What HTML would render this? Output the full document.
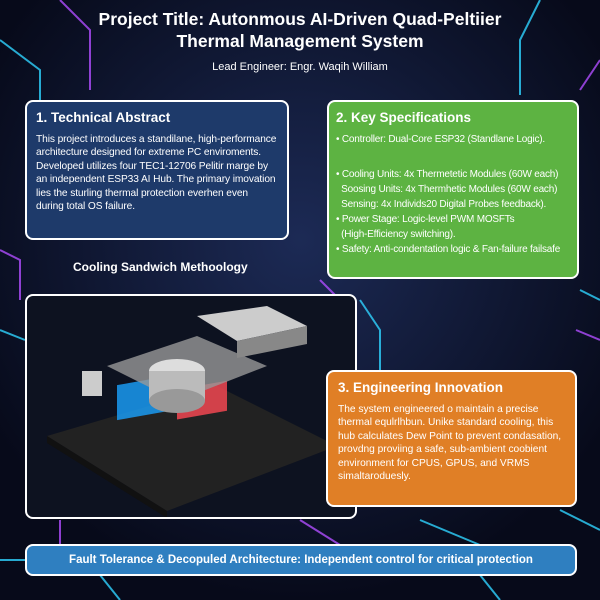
<!DOCTYPE html>
<html><head><style>
body{margin:0;width:600px;height:600px;overflow:hidden;background:#0a0f24;font-family:"Liberation Sans",sans-serif;position:relative}
.abs{position:absolute}
.box{position:absolute;border:2px solid #fff;border-radius:8px;box-sizing:border-box;color:#fff}
h2{margin:0;font-size:13.5px;font-weight:bold}
p{margin:0;font-size:10.2px;line-height:13.4px}
</style></head><body>
<svg class="abs" style="left:0;top:0" width="600" height="600">
<defs><radialGradient id="g" cx="50%" cy="40%" r="60%"><stop offset="0" stop-color="#1c2a55"/><stop offset="1" stop-color="#070a1a"/></radialGradient></defs>
<rect width="600" height="600" fill="url(#g)"/>
<g stroke-width="2" fill="none" opacity="0.8">
<path d="M0 40 L40 70 L40 100" stroke="#2fd3ff"/>
<path d="M60 0 L90 30 L90 90" stroke="#b04dff"/>
<path d="M540 0 L520 40 L520 95" stroke="#2fd3ff"/>
<path d="M600 60 L580 90" stroke="#b04dff"/>
<path d="M0 250 L20 260 L20 300" stroke="#b04dff"/>
<path d="M0 330 L25 340" stroke="#2fd3ff"/>
<path d="M580 290 L600 300" stroke="#2fd3ff"/>
<path d="M576 330 L600 340" stroke="#b04dff"/>
<path d="M360 300 L380 330 L380 370" stroke="#2fd3ff"/>
<path d="M320 280 L340 300" stroke="#b04dff"/>
<path d="M60 520 L60 545" stroke="#b04dff"/>
<path d="M100 575 L120 600" stroke="#2fd3ff"/>
<path d="M420 520 L480 545" stroke="#2fd3ff"/>
<path d="M480 575 L500 600" stroke="#2fd3ff"/>
<path d="M300 520 L340 545" stroke="#b04dff"/>
<path d="M560 510 L600 530" stroke="#2fd3ff"/>
<path d="M0 560 L25 560" stroke="#2fd3ff"/>
</g>
</svg>
<div class="abs" style="left:0;top:8px;width:600px;text-align:center;color:#fff;font-weight:bold;font-size:17.5px;line-height:22px">Project Title: Autonmous AI-Driven Quad-Peltiier<br>Thermal Management System</div>
<div class="abs" style="left:0;top:61px;width:600px;text-align:center;color:#fff;font-size:11px">Lead Engineer: Engr. Waqih William</div>

<div class="box" style="left:25px;top:100px;width:264px;height:140px;background:#1e3a6a;padding:8px 9px">
<h2>1. Technical Abstract</h2>
<p style="margin-top:8px;letter-spacing:-0.1px">This project introduces a standilane, high-performance architecture designed for extreme PC enviroments. Developed utilizes four TEC1-12706 Pelitir marge by an independent ESP33 AI Hub. The primary imovation lies the sturling thermal protection everhen even during total OS failure.</p>
</div>

<div class="box" style="left:327px;top:100px;width:252px;height:179px;background:#5db342;padding:8px 7px">
<h2>2. Key Specifications</h2>
<p style="margin-top:8px;font-size:10px;letter-spacing:-0.2px">• Controller: Dual-Core ESP32 (Standlane Logic).</p>
<p style="margin-top:21px;font-size:10px;letter-spacing:-0.2px;line-height:15px">• Cooling Units: 4x Thermetetic Modules (60W each)<br>&nbsp;&nbsp;Soosing Units: 4x Thermhetic Modules (60W each)<br>&nbsp;&nbsp;Sensing: 4x Individs20 Digital Probes feedback).<br>• Power Stage: Logic-level PWM MOSFTs<br>&nbsp;&nbsp;(High-Efficiency switching).<br>• Safety: Anti-condentation logic &amp; Fan-failure failsafe</p>
</div>

<div class="abs" style="left:73px;top:260px;color:#fff;font-weight:bold;font-size:12px">Cooling Sandwich Methoology</div>

<div class="box" style="left:25px;top:294px;width:332px;height:225px;background:#0d1220;overflow:hidden">
<svg width="330" height="222">
<polygon points="20,140 190,90 310,150 140,215" fill="#222"/>
<polygon points="20,140 140,215 140,222 20,147" fill="#111"/>
<rect x="90" y="105" width="60" height="35" fill="#1aa3ff" opacity="0.8" transform="skewY(-10)"/>
<rect x="150" y="120" width="50" height="30" fill="#ff4a55" opacity="0.8" transform="skewY(-10)"/>
<polygon points="80,70 170,40 240,70 150,105" fill="#999" opacity="0.8"/>
<polygon points="170,20 240,10 280,30 210,45" fill="#ccc"/>
<polygon points="210,45 280,30 280,48 210,62" fill="#888"/>
<ellipse cx="150" cy="75" rx="28" ry="12" fill="#ddd"/>
<rect x="122" y="75" width="56" height="30" fill="#bbb"/>
<ellipse cx="150" cy="105" rx="28" ry="12" fill="#999"/>
<rect x="55" y="75" width="20" height="25" fill="#ccc"/>
</svg>
</div>

<div class="box" style="left:326px;top:370px;width:251px;height:137px;background:#e07f26;padding:8px 10px">
<h2>3. Engineering Innovation</h2>
<p style="margin-top:8px">The system engineered o maintain a precise thermal equlrlhbun. Unike standard cooling, this hub calculates Dew Point to prevent condasation, provdng proviing a safe, sub-ambient coobient environment for CPUS, GPUS, and VRMS simaltaroduesly.</p>
</div>

<div class="box" style="left:25px;top:544px;width:552px;height:32px;background:#2f7fc0;text-align:center;font-weight:bold;font-size:11.5px;line-height:28px">Fault Tolerance &amp; Decopuled Architecture: Independent control for critical protection</div>
</body></html>
